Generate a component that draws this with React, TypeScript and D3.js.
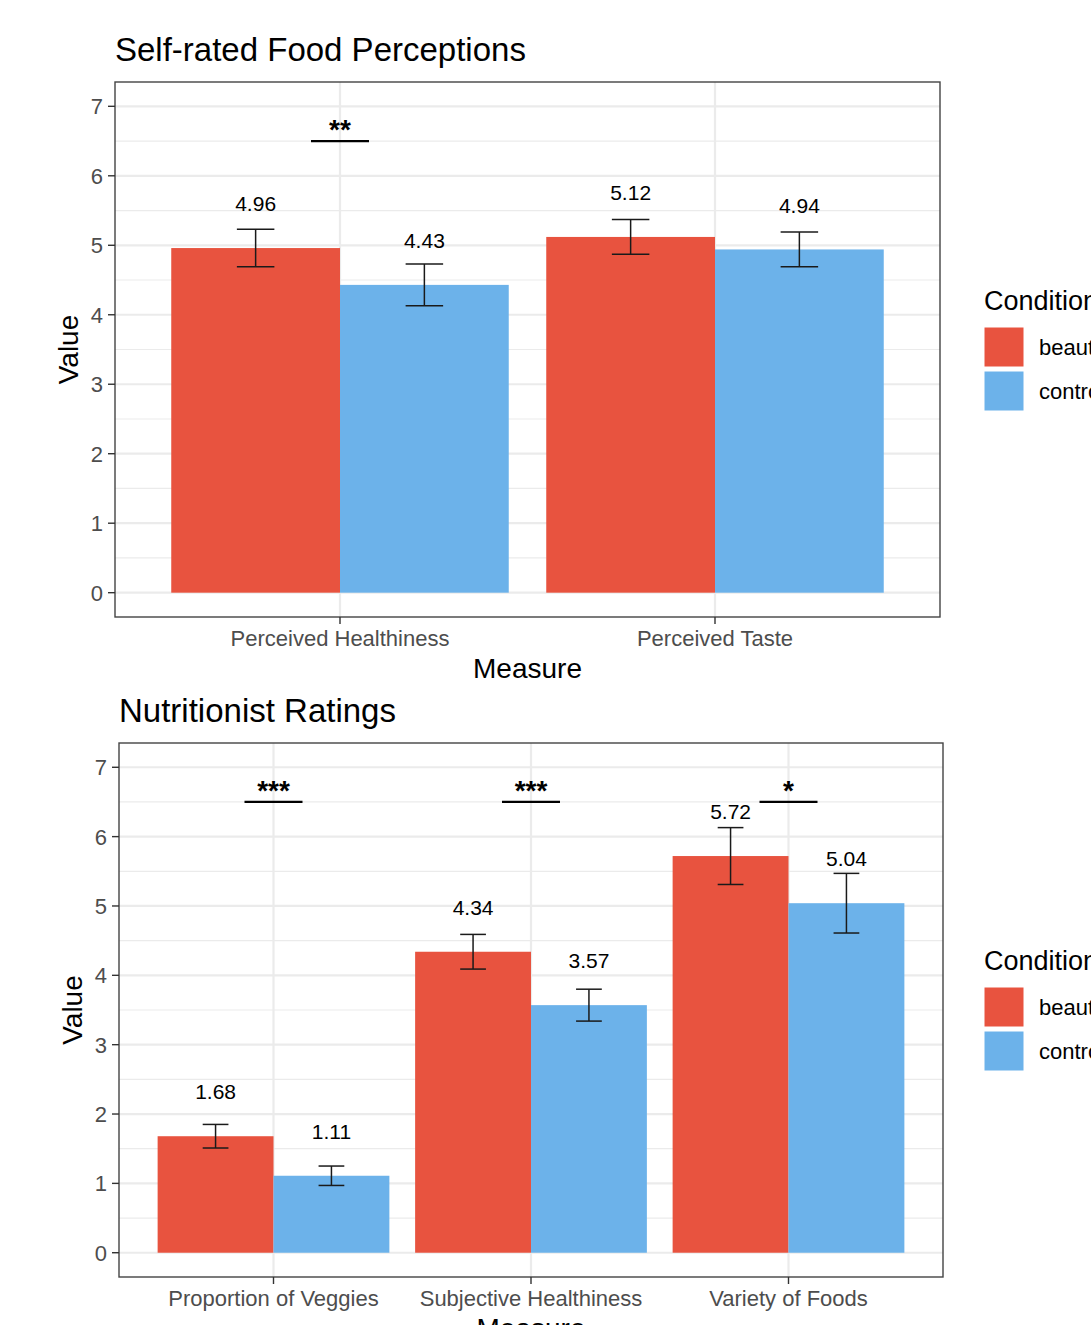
import React from 'react';
import * as d3 from 'd3';

const conditions = ['beautiful', 'control'];
const conditionColors = ['#E8533F', '#6CB2EA'];

const topMeasures = ['Perceived Healthiness', 'Perceived Taste'];
const topBeautiful = [4.96, 5.12];
const topBeautifulSe = [0.27, 0.25];
const topControl = [4.43, 4.94];
const topControlSe = [0.3, 0.25];
const topSig = ['**', ''];

const bottomMeasures = ['Proportion of Veggies', 'Subjective Healthiness', 'Variety of Foods'];
const bottomBeautiful = [1.68, 4.34, 5.72];
const bottomBeautifulSe = [0.17, 0.25, 0.41];
const bottomControl = [1.11, 3.57, 5.04];
const bottomControlSe = [0.14, 0.23, 0.43];
const bottomSig = ['***', '***', '*'];

const yTicks = [0, 1, 2, 3, 4, 5, 6, 7];
const yMinor = [0.5, 1.5, 2.5, 3.5, 4.5, 5.5, 6.5];
const sigLevel = 6.5;
const labelOffset = 0.64;

const FONT = "'Liberation Sans', Arial, Helvetica, sans-serif";

type Dim = { l: number; r: number; t: number; b: number; titleY: number };

const Panel = ({ title, measures, means, ses, sig, dim, legendY }: any) => {
  const x = d3.scalePoint<string>().domain(measures).range([dim.l, dim.r]).padding(0.6);
  const step = x.step();
  const dodge = d3.scaleBand<string>().domain(conditions).range([-0.45 * step, 0.45 * step]);
  const y = d3.scaleLinear().domain([-0.35, 7.35]).range([dim.b, dim.t]);
  const cap = 0.05 * step;

  return (
    <g>
      <text x={dim.l} y={dim.titleY} fontSize={33} fill="#000">{title}</text>
      {/* grid */}
      {yMinor.map((v) => (
        <line key={'mn' + v} x1={dim.l} x2={dim.r} y1={y(v)} y2={y(v)} stroke="#EBEBEB" strokeWidth={1.2} />
      ))}
      {yTicks.map((v) => (
        <line key={'mj' + v} x1={dim.l} x2={dim.r} y1={y(v)} y2={y(v)} stroke="#EBEBEB" strokeWidth={2.2} />
      ))}
      {measures.map((m: string) => (
        <line key={'vx' + m} x1={x(m)} x2={x(m)} y1={dim.t} y2={dim.b} stroke="#EBEBEB" strokeWidth={2.2} />
      ))}
      {/* bars */}
      {conditions.map((c, ci) =>
        measures.map((m: string, i: number) => (
          <rect
            key={c + m}
            x={(x(m) as number) + (dodge(c) as number)}
            y={y(means[ci][i])}
            width={dodge.bandwidth()}
            height={y(0) - y(means[ci][i])}
            fill={conditionColors[ci]}
          />
        ))
      )}
      {/* error bars and labels */}
      {conditions.map((c, ci) =>
        measures.map((m: string, i: number) => {
          const cx = (x(m) as number) + (dodge(c) as number) + dodge.bandwidth() / 2;
          const hi = y(means[ci][i] + ses[ci][i]);
          const lo = y(means[ci][i] - ses[ci][i]);
          return (
            <g key={'e' + c + m}>
              <line x1={cx} x2={cx} y1={hi} y2={lo} stroke="#1a1a1a" strokeWidth={1.5} />
              <line x1={cx - cap} x2={cx + cap} y1={hi} y2={hi} stroke="#1a1a1a" strokeWidth={1.5} />
              <line x1={cx - cap} x2={cx + cap} y1={lo} y2={lo} stroke="#1a1a1a" strokeWidth={1.5} />
              <text x={cx} y={y(means[ci][i] + labelOffset)} dy="0.36em" textAnchor="middle" fontSize={21} fill="#000">
                {means[ci][i].toFixed(2)}
              </text>
            </g>
          );
        })
      )}
      {/* significance */}
      {measures.map((m: string, i: number) =>
        sig[i] ? (
          <g key={'s' + m}>
            <line x1={(x(m) as number) - 29} x2={(x(m) as number) + 29} y1={y(sigLevel)} y2={y(sigLevel)} stroke="#000" strokeWidth={2.2} />
            <text x={x(m)} y={y(sigLevel) - 2} textAnchor="middle" fontSize={28} fontWeight="bold" fill="#000">
              {sig[i]}
            </text>
          </g>
        ) : null
      )}
      {/* panel border */}
      <rect x={dim.l} y={dim.t} width={dim.r - dim.l} height={dim.b - dim.t} fill="none" stroke="#444" strokeWidth={1.4} />
      {/* y axis */}
      {yTicks.map((v) => (
        <g key={'yt' + v}>
          <line x1={dim.l - 7} x2={dim.l} y1={y(v)} y2={y(v)} stroke="#333" strokeWidth={1.4} />
          <text x={dim.l - 12} y={y(v)} dy="0.36em" textAnchor="end" fontSize={22} fill="#4D4D4D">{v}</text>
        </g>
      ))}
      {/* x axis */}
      {measures.map((m: string) => (
        <g key={'xt' + m}>
          <line x1={x(m)} x2={x(m)} y1={dim.b} y2={dim.b + 7} stroke="#333" strokeWidth={1.4} />
          <text x={x(m)} y={dim.b + 29} textAnchor="middle" fontSize={22} fill="#4D4D4D">{m}</text>
        </g>
      ))}
      <text x={(dim.l + dim.r) / 2} y={dim.b + 61} textAnchor="middle" fontSize={28} fill="#000">Measure</text>
      <text
        transform={`translate(${dim.l - 37},${(dim.t + dim.b) / 2}) rotate(-90)`}
        textAnchor="middle"
        fontSize={28}
        fill="#000"
      >
        Value
      </text>
      {/* legend */}
      <g transform={`translate(984,${legendY})`}>
        <text x={0} y={0} fontSize={27} fill="#000">Condition</text>
        {conditions.map((c, ci) => (
          <g key={'lg' + c} transform={`translate(0,${17 + ci * 44})`}>
            <rect x={0} y={0} width={40} height={40} fill={conditionColors[ci]} stroke="#fff" strokeWidth={1} />
            <text x={55} y={20} dy="0.36em" fontSize={22} fill="#000">{c}</text>
          </g>
        ))}
      </g>
    </g>
  );
};

const App = () => {
  const topDim: Dim = { l: 115, r: 940, t: 82, b: 617, titleY: 61 };
  const bottomDim: Dim = { l: 119, r: 943, t: 743, b: 1277, titleY: 722 };
  return (
    <svg
      width={1091}
      height={1325}
      style={{ position: 'absolute', left: 0, top: 0, background: '#fff', overflow: 'hidden' }}
      fontFamily={FONT}
    >
      <rect x={0} y={0} width={1091} height={1325} fill="#fff" />
      <Panel
        title="Self-rated Food Perceptions"
        measures={topMeasures}
        means={[topBeautiful, topControl]}
        ses={[topBeautifulSe, topControlSe]}
        sig={topSig}
        dim={topDim}
        legendY={310}
      />
      <Panel
        title="Nutritionist Ratings"
        measures={bottomMeasures}
        means={[bottomBeautiful, bottomControl]}
        ses={[bottomBeautifulSe, bottomControlSe]}
        sig={bottomSig}
        dim={bottomDim}
        legendY={970}
      />
    </svg>
  );
};

export default App;
